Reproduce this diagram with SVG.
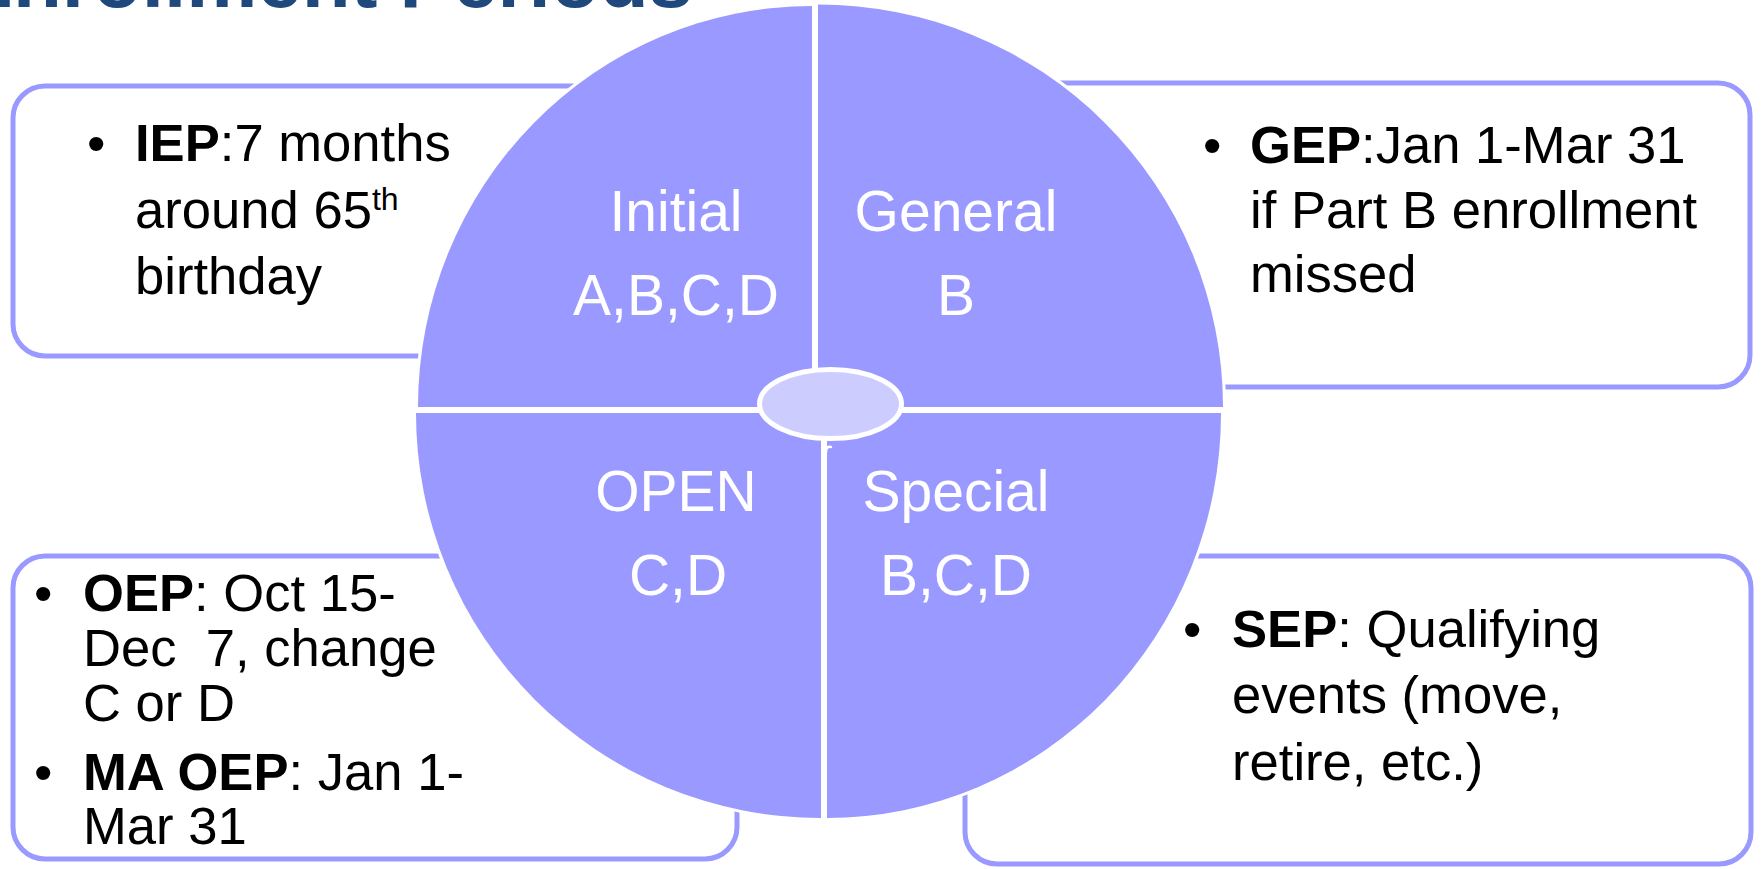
<svg xmlns="http://www.w3.org/2000/svg" width="1762" height="869" viewBox="0 0 1762 869">
<style>
.box{fill:#FFFFFF;stroke:#9999FF;stroke-width:5}
.q{fill:#9999FF;stroke:#FFFFFF;stroke-width:6;paint-order:stroke;stroke-linejoin:miter}
.t{font-family:"Liberation Sans",Arial,sans-serif;font-size:52.6px;fill:#000000}
.b{font-weight:bold}
.lbl{font-family:"Liberation Sans",Arial,sans-serif;font-size:57px;fill:#FFFFFF;text-anchor:middle}
.title{font-family:"Liberation Sans",Arial,sans-serif;font-size:80px;font-weight:bold;fill:#1F497D;text-anchor:end}
</style>
<rect width="1762" height="869" fill="#FFFFFF"/>
<text class="title" x="693" y="7">Enrollment Periods</text>

<g id="iep-box">
<rect class="box" x="13" y="86" width="800" height="270" rx="32"/>
<text class="t" x="87" y="161">•</text>
<text class="t" x="135" y="161"><tspan class="b">IEP</tspan>:7 months</text>
<text class="t" x="135" y="228">around 65<tspan font-size="32" dy="-18">th</tspan></text>
<text class="t" x="135" y="294">birthday</text>
</g>

<g id="gep-box">
<rect class="box" x="850" y="83" width="900" height="304" rx="32"/>
<text class="t" x="1203" y="163">•</text>
<text class="t" x="1250" y="163"><tspan class="b">GEP</tspan>:Jan 1-Mar 31</text>
<text class="t" x="1250" y="228">if Part B enrollment</text>
<text class="t" x="1250" y="292">missed</text>
</g>

<g id="oep-box">
<rect class="box" x="13" y="556" width="724" height="303" rx="32"/>
<text class="t" x="34" y="611">•</text>
<text class="t" x="83" y="611"><tspan class="b">OEP</tspan>: Oct 15-</text>
<text class="t" x="83" y="666" xml:space="preserve">Dec  7, change</text>
<text class="t" x="83" y="721">C or D</text>
<text class="t" x="34" y="790">•</text>
<text class="t" x="83" y="790"><tspan class="b">MA OEP</tspan>: Jan 1-</text>
<text class="t" x="83" y="844">Mar 31</text>
</g>

<g id="sep-box">
<rect class="box" x="965" y="556" width="786" height="308" rx="32"/>
<text class="t" x="1183" y="647">•</text>
<text class="t" x="1232" y="647"><tspan class="b">SEP</tspan>: Qualifying</text>
<text class="t" x="1232" y="713">events (move,</text>
<text class="t" x="1232" y="780">retire, etc.)</text>
</g>

<g id="initial">
<path class="q" d="M812,407 L418,407 A394,401 0 0 1 812,6 Z"/>
<text class="lbl" x="676" y="231">Initial</text>
<text class="lbl" x="676" y="315">A,B,C,D</text>
</g>
<g id="general">
<path class="q" d="M818,407 L818,4.5 A405,402.5 0 0 1 1223,407 Z"/>
<text class="lbl" x="956" y="231">General</text>
<text class="lbl" x="956" y="315">B</text>
</g>
<g id="open">
<path class="q" d="M821,413 L416,413 A405,405 0 0 0 821,818 Z"/>
<text class="lbl" x="676" y="511">OPEN</text>
<text class="lbl" x="678" y="595">C,D</text>
</g>
<g id="special">
<path class="q" d="M827,413 L1221,413 A394,405 0 0 1 827,818 Z"/>
<text class="lbl" x="956" y="511">Special</text>
<text class="lbl" x="956" y="595">B,C,D</text>
</g>
<g id="hub">
<ellipse cx="830.5" cy="404" rx="71" ry="34.5" fill="#CCCCFF" stroke="#FFFFFF" stroke-width="5"/>
<path d="M826,452 Q826,446 831,447" fill="none" stroke="#FFFFFF" stroke-width="2.5" stroke-linecap="round"/>
</g>
<g id="connectors"/>
</svg>
